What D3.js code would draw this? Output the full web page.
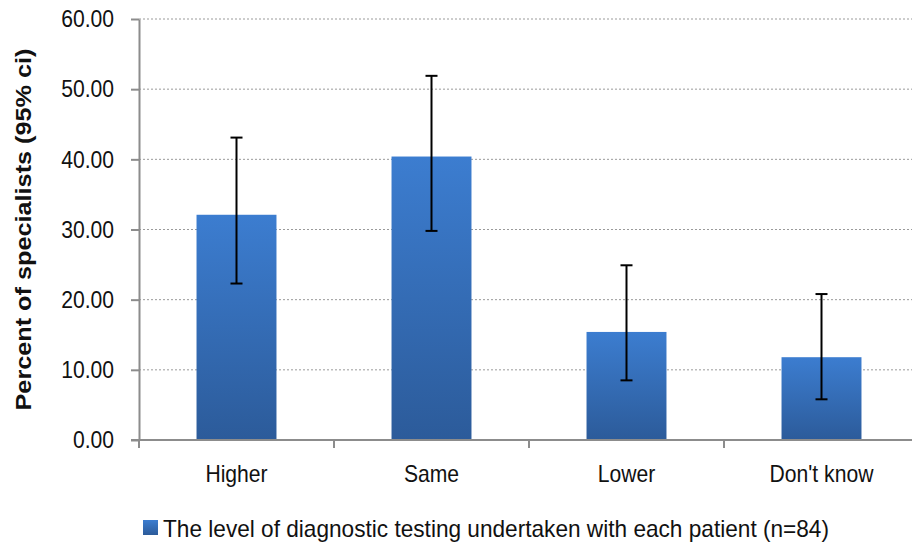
<html>
<script src="https://d3js.org/d3.v7.min.js"></script>
<style>
body {margin: 0; background: #fff;}
text {font-family: "Liberation Sans", Arial, sans-serif;}
</style>
<body>
<script>
// data
var categories = ["Higher", "Same", "Lower", "Don't know"];
var values = [32.1, 40.4, 15.4, 11.8];
var ciLow = [22.3, 29.8, 8.5, 5.8];
var ciHigh = [43.1, 51.9, 24.9, 20.8];
var yTicks = [0, 10, 20, 30, 40, 50, 60];
var seriesName = "The level of diagnostic testing undertaken with each patient (n=84)";

var w = 912, h = 546;
var padLeft = 139, padTop = 19, axisY = 440, padRight = 919;

var svg = d3.select("body").append("svg")
  .attr("width", w)
  .attr("height", h);

var defs = svg.append("defs");
var grad = defs.append("linearGradient")
  .attr("id", "barGrad")
  .attr("x1", 0).attr("y1", 0).attr("x2", 0).attr("y2", 1);
grad.append("stop").attr("offset", "0%").attr("stop-color", "#3c7dd0");
grad.append("stop").attr("offset", "100%").attr("stop-color", "#2c5b9a");

var xScale = d3.scaleBand()
  .domain(categories)
  .range([padLeft, padRight])
  .paddingInner(0.59)
  .paddingOuter(0.295);

var yScale = d3.scaleLinear()
  .domain([0, 60])
  .range([axisY, padTop]);

// gridlines
svg.append("g")
  .selectAll("line")
  .data(yTicks.filter(function(d) { return d > 0; }))
  .enter()
  .append("line")
  .attr("x1", padLeft)
  .attr("x2", w)
  .attr("y1", function(d) { return yScale(d); })
  .attr("y2", function(d) { return yScale(d); })
  .attr("stroke", "#9a9a9a")
  .attr("stroke-width", 1)
  .attr("stroke-dasharray", "2,2");

// bars
svg.append("g")
  .selectAll("rect")
  .data(values)
  .enter()
  .append("rect")
  .attr("x", function(d, i) { return xScale(categories[i]); })
  .attr("y", function(d) { return yScale(d); })
  .attr("width", xScale.bandwidth())
  .attr("height", function(d) { return axisY - yScale(d); })
  .attr("fill", "url(#barGrad)");

// y axis
var yAxis = d3.axisLeft(yScale)
  .tickValues(yTicks)
  .tickFormat(d3.format(".2f"))
  .tickSize(8)
  .tickSizeOuter(0)
  .tickPadding(17);
var gy = svg.append("g")
  .attr("transform", "translate(" + padLeft + ",0)")
  .attr("font-family", null)
  .attr("font-size", null)
  .call(yAxis);
gy.select(".domain").attr("stroke", "#8c8c8c").attr("stroke-width", 2);
gy.selectAll(".tick line").attr("stroke", "#8c8c8c").attr("stroke-width", 2);
gy.selectAll("text")
  .attr("class", "narrow")
  .style("font-size", "24px")
  .attr("fill", "#111");

// x axis line with ticks at category boundaries
var step = xScale.step();
svg.append("line")
  .attr("x1", padLeft - 8).attr("x2", w)
  .attr("y1", axisY).attr("y2", axisY)
  .attr("stroke", "#8c8c8c").attr("stroke-width", 2);
svg.append("g")
  .selectAll("line")
  .data(d3.range(categories.length + 1))
  .enter()
  .append("line")
  .attr("x1", function(i) { return padLeft + i * step; })
  .attr("x2", function(i) { return padLeft + i * step; })
  .attr("y1", axisY)
  .attr("y2", axisY + 8)
  .attr("stroke", "#8c8c8c").attr("stroke-width", 2);

svg.append("g")
  .selectAll("text")
  .data(categories)
  .enter()
  .append("text")
  .attr("class", "narrow")
  .attr("x", function(d) { return xScale(d) + xScale.bandwidth() / 2; })
  .attr("y", 482)
  .attr("text-anchor", "middle")
  .style("font-size", "24px")
  .attr("fill", "#111")
  .text(function(d) { return d; });

// error bars
var eb = svg.append("g").attr("stroke", "#000").attr("stroke-width", 2);
categories.forEach(function(c, i) {
  var cx = xScale(c) + xScale.bandwidth() / 2;
  eb.append("line").attr("x1", cx).attr("x2", cx)
    .attr("y1", yScale(ciLow[i])).attr("y2", yScale(ciHigh[i]));
  eb.append("line").attr("x1", cx - 6).attr("x2", cx + 6)
    .attr("y1", yScale(ciLow[i])).attr("y2", yScale(ciLow[i]));
  eb.append("line").attr("x1", cx - 6).attr("x2", cx + 6)
    .attr("y1", yScale(ciHigh[i])).attr("y2", yScale(ciHigh[i]));
});

// y axis title
svg.append("text")
  .attr("transform", "translate(31," + ((padTop + axisY) / 2) + ") rotate(-90)")
  .attr("text-anchor", "middle")
  .style("font-size", "22px")
  .style("font-weight", "bold")
  .attr("fill", "#111")
  .attr("textLength", 362)
  .attr("lengthAdjust", "spacingAndGlyphs")
  .text("Percent of specialists (95% ci)");

// legend
svg.append("rect")
  .attr("x", 143).attr("y", 520)
  .attr("width", 15).attr("height", 15)
  .attr("fill", "url(#barGrad)");
svg.append("text")
  .attr("x", 163).attr("y", 537)
  .style("font-size", "24px")
  .attr("fill", "#111")
  .attr("textLength", 666)
  .attr("lengthAdjust", "spacingAndGlyphs")
  .text(seriesName);

// the original font is a narrow one: squeeze the texts
svg.selectAll("text.narrow").each(function() {
  var len = this.getComputedTextLength();
  d3.select(this)
    .attr("textLength", len * 0.88)
    .attr("lengthAdjust", "spacingAndGlyphs");
});
</script>
</body>
</html>
